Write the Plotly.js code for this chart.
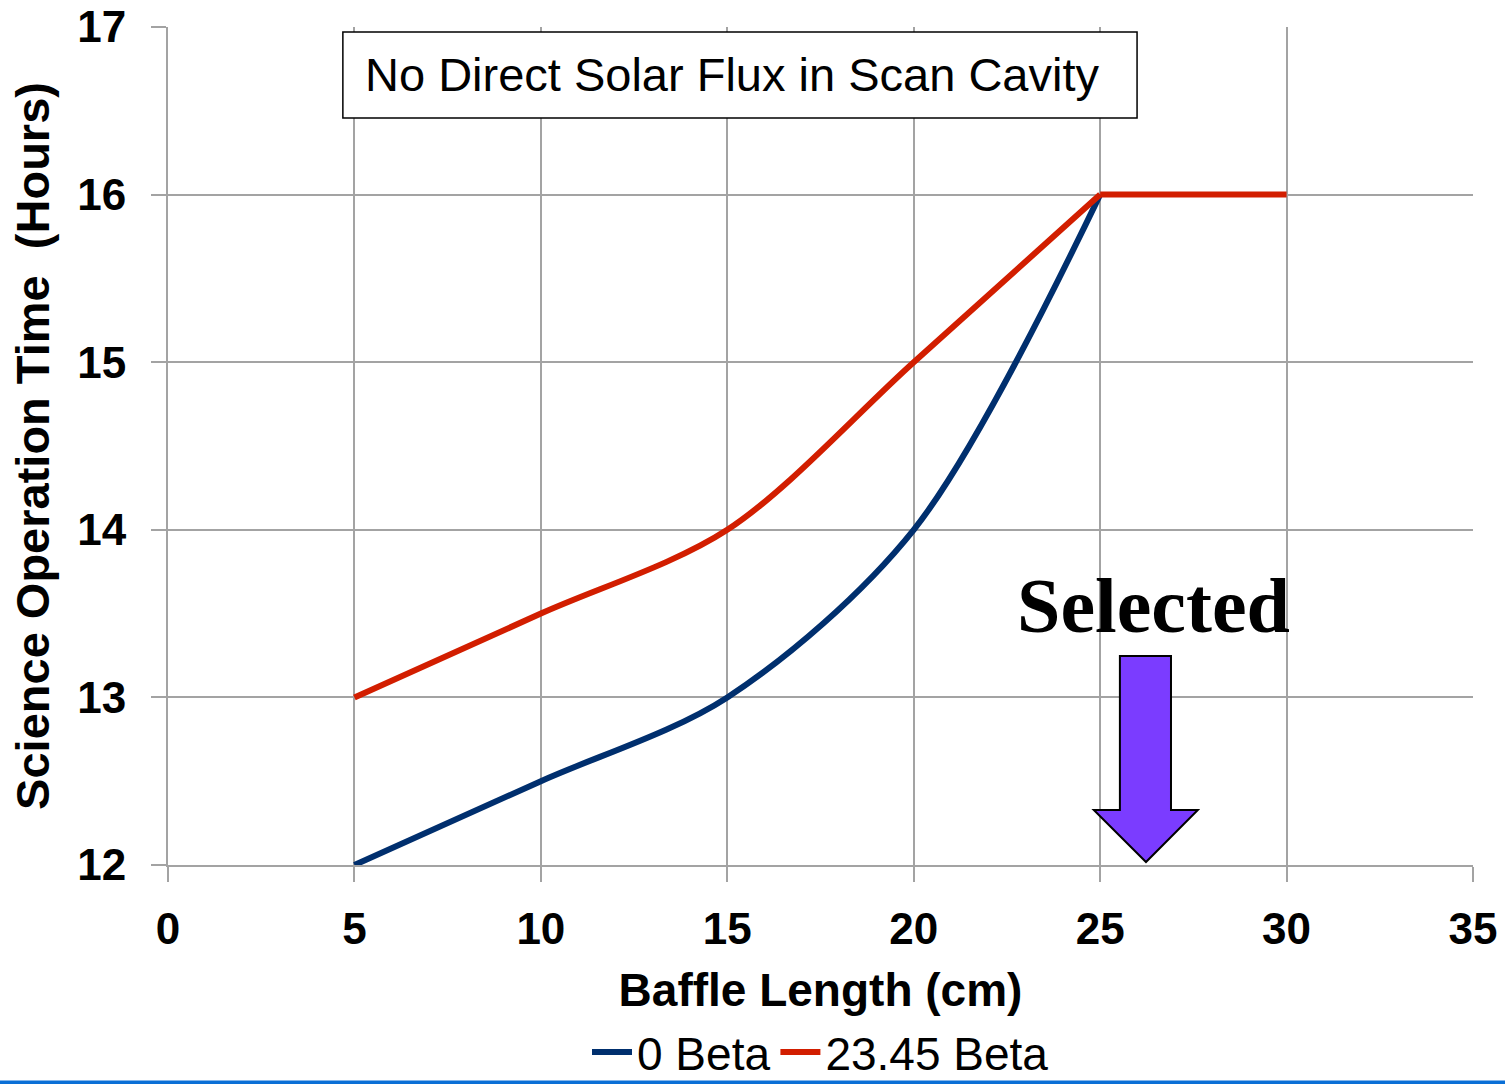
<!DOCTYPE html>
<html>
<head>
<meta charset="utf-8">
<script src="https://cdn.plot.ly/plotly-3.0.1.min.js"></script>
<style>
html,body{margin:0;padding:0;background:#fff;overflow:hidden;}
#chart{width:1505px;height:1084px;}
</style>
</head>
<body>
<div id="chart"></div>
<script>
// ---- data ----
const baffleLength0 = [5, 10, 15, 20, 25];
const hours0Beta = [12, 12.5, 13, 14, 16];
const baffleLength23 = [5, 10, 15, 20, 25, 30];
const hours23Beta = [13, 13.5, 14, 15, 16, 16];
const seriesNames = ["0 Beta", "23.45 Beta"];
const xTicks = [0, 5, 10, 15, 20, 25, 30, 35];
const yTicks = [12, 13, 14, 15, 16, 17];
const boxText = "No Direct Solar Flux in Scan Cavity";
const selectedText = "Selected";
// arrow outline (data coords) pointing at the selected length
const arrowX = [25.53, 26.90, 26.90, 27.62, 26.23, 24.83, 25.53];
const arrowY = [13.247, 13.247, 12.328, 12.328, 12.018, 12.328, 12.328];

const gridColor = "#a3a3a3";
const sans = "Liberation Sans, Arial, sans-serif";
const blue = "#002f6e", red = "#d21e00";

// red series: smooth rising part, then the flat plateau from 25 cm on
const plateauStart = baffleLength23.indexOf(25);

const traces = [
  {x: baffleLength0, y: hours0Beta, name: seriesNames[0], mode: "lines", legendgroup: "b",
   line: {color: blue, width: 6, shape: "spline", smoothing: 0.9}},
  {x: baffleLength23.slice(0, plateauStart + 1), y: hours23Beta.slice(0, plateauStart + 1),
   name: seriesNames[1], mode: "lines", legendgroup: "r",
   line: {color: red, width: 6, shape: "spline", smoothing: 0.9}},
  {x: baffleLength23.slice(plateauStart), y: hours23Beta.slice(plateauStart),
   name: seriesNames[1], mode: "lines", legendgroup: "r", showlegend: false,
   line: {color: red, width: 6}}
];

let arrowPath = "M" + arrowX.map((x, i) => x + "," + arrowY[i]).join(" L") + " Z";

const layout = {
  width: 1505, height: 1084,
  margin: {l: 168, r: 32, t: 27, b: 219, autoexpand: false},
  paper_bgcolor: "#fff", plot_bgcolor: "#fff",
  showlegend: true,
  legend: {orientation: "h", x: 0.50, xanchor: "center", xref: "paper",
           y: 0.063, yanchor: "top", yref: "container",
           font: {family: sans, size: 46, color: "#000"}, itemwidth: 40,
           traceorder: "grouped", tracegroupgap: 30,
           bgcolor: "rgba(0,0,0,0)"},
  xaxis: {range: [0, 35], tickvals: xTicks, showgrid: true, gridcolor: gridColor, gridwidth: 2,
          zeroline: false, showline: true, linecolor: gridColor, linewidth: 2,
          ticks: "outside", ticklen: 15, tickcolor: gridColor, tickwidth: 2,
          ticklabelstandoff: 9,
          tickfont: {family: sans, size: 44, color: "#000", weight: "bold"},
          title: {text: "Baffle Length (cm)", standoff: 28,
                  font: {family: sans, size: 46, color: "#000", weight: "bold"}}},
  yaxis: {range: [12, 17], tickvals: yTicks, showgrid: true, gridcolor: gridColor, gridwidth: 2,
          zeroline: false, showline: true, linecolor: gridColor, linewidth: 2,
          ticks: "outside", ticklen: 15, tickcolor: gridColor, tickwidth: 2,
          ticklabelstandoff: 16,
          tickfont: {family: sans, size: 44, color: "#000", weight: "bold"},
          title: {text: "Science Operation Time&nbsp; (Hours)", standoff: 13,
                  font: {family: sans, size: 47, color: "#000", weight: "bold"}}},
  shapes: [
    {type: "rect", xref: "x", yref: "y", x0: 4.69, x1: 25.99, y0: 16.457, y1: 16.97,
     line: {color: "#000", width: 1.5}, fillcolor: "#fff", layer: "above"},
    {type: "path", xref: "x", yref: "y", path: arrowPath,
     fillcolor: "#7b3cff", line: {color: "#000", width: 2}, layer: "above"},
    {type: "line", xref: "paper", yref: "paper", x0: -0.13, x1: 1.03, y0: -0.2595, y1: -0.2595,
     line: {color: "#0a6fd6", width: 4}}
  ],
  annotations: [
    {xref: "x", yref: "y", x: 5.23, y: 16.714, xanchor: "left", yanchor: "middle",
     text: boxText, showarrow: false, font: {family: sans, size: 47, color: "#000"}},
    {xref: "x", yref: "y", x: 26.44, y: 13.55, xanchor: "center", yanchor: "middle",
     text: "<b>" + selectedText + "</b>", showarrow: false,
     font: {family: "Liberation Serif, Times New Roman, serif", size: 78, color: "#000"}}
  ]
};

Plotly.newPlot("chart", traces, layout, {staticPlot: true, displayModeBar: false});
</script>
</body>
</html>
